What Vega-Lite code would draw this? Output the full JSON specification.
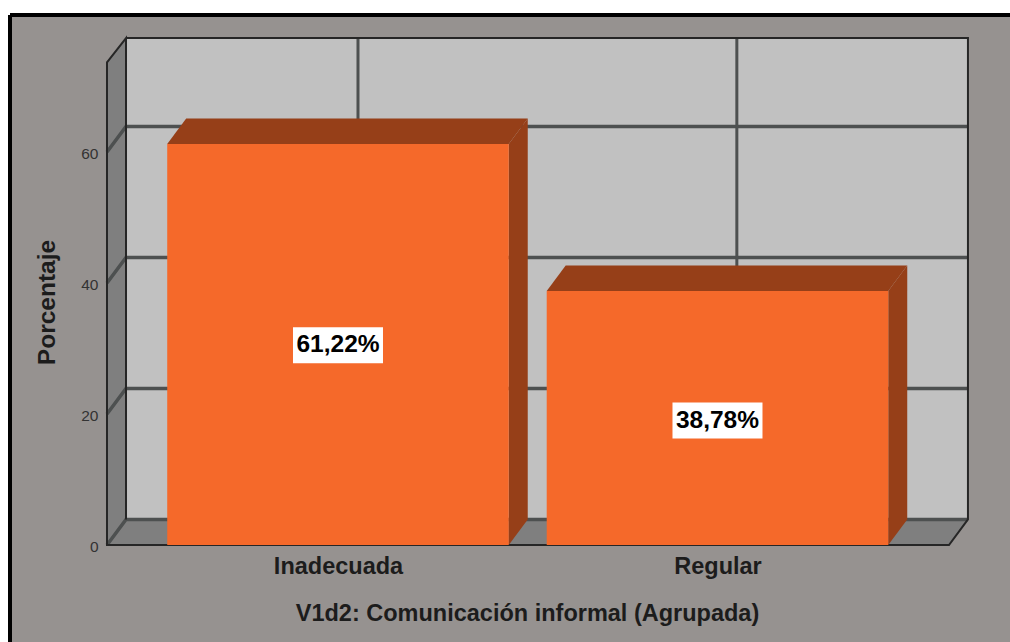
{"$schema":"https://vega.github.io/schema/vega-lite/v6.json","width":1000,"height":627,"autosize":"none","padding":{"left":10,"top":15,"right":0,"bottom":0},"background":"#ffffff","view":{"fill":"#969290","stroke":null},"config":{"font":"Liberation Sans"},
"encoding":{
"x":{"field":"x","type":"quantitative","scale":{"domain":[-0.8643,1.7708],"nice":false,"zero":false},"axis":{"orient":"bottom","offset":-97,"values":[0,1],"labelExpr":"datum.value === 0 ? 'Inadecuada' : 'Regular'","domain":false,"ticks":false,"grid":false,"labelFontSize":23.5,"labelFontWeight":"bold","labelColor":"#1c1c1c","labelPadding":9,"labelBound":false,"labelFlush":false,"labelOverlap":false,"title":"V1d2: Comunicación informal (Agrupada)","titleFontSize":23.5,"titleFontWeight":"bold","titleColor":"#1c1c1c","titleX":517,"titleY":68,"titleAlign":"center","titleBaseline":"middle","titleAnchor":null}},
"y":{"field":"y","type":"quantitative","scale":{"domain":[-14.809,80.916],"nice":false,"zero":false},"axis":{"orient":"left","offset":-97,"values":[0,20,40,60],"domain":false,"ticks":false,"grid":false,"labelFontSize":15.5,"labelColor":"#333333","labelPadding":9,"labelOffset":1.5,"labelBound":false,"labelFlush":false,"labelOverlap":false,"title":"Porcentaje","titleFontSize":24.5,"titleFontWeight":"bold","titleColor":"#1c1c1c","titleX":-60,"titleY":287,"titleAngle":-90,"titleAlign":"center","titleBaseline":"middle","titleAnchor":null}}
},
"layer":[
{"data":{"values":[{"x":-0.5586,"x2":1.66,"y":3.9,"y2":77.4}]},"mark":{"type":"rect","fill":"#c1c1c1"},"encoding":{"x2":{"field":"x2"},"y2":{"field":"y2"}}},
{"data":{"values":[{"x":-0.6087,"y":0,"y2":73.7},{"x":-0.5586,"y":3.9,"y2":77.4}]},"mark":{"type":"area","orient":"vertical","fill":"#7f7f7f"},"encoding":{"y2":{"field":"y2"}}},
{"data":{"values":[{"y":0,"x":-0.6087,"x2":1.61},{"y":3.9,"x":-0.5586,"x2":1.66}]},"mark":{"type":"area","orient":"horizontal","fill":"#7f7f7f"},"encoding":{"x2":{"field":"x2"}}},
{"data":{"values":[{"x":-0.6087,"y":0,"v":0},{"x":-0.5586,"y":3.9,"v":0},{"x":1.66,"y":3.9,"v":0},{"x":-0.6087,"y":20,"v":20},{"x":-0.5586,"y":23.9,"v":20},{"x":1.66,"y":23.9,"v":20},{"x":-0.6087,"y":40,"v":40},{"x":-0.5586,"y":43.9,"v":40},{"x":1.66,"y":43.9,"v":40},{"x":-0.6087,"y":60,"v":60},{"x":-0.5586,"y":63.9,"v":60},{"x":1.66,"y":63.9,"v":60}]},"mark":{"type":"line","color":"#4d5050","strokeWidth":3.5},"encoding":{"detail":{"field":"v"}}},
{"data":{"values":[{"x":0.0527,"y":3.9,"y2":77.4},{"x":1.051,"y":3.9,"y2":77.4}]},"mark":{"type":"rule","color":"#4d5050","strokeWidth":3},"encoding":{"y2":{"field":"y2"}}},
{"data":{"values":[{"tramo":"a","orden":1,"x":-0.5586,"y":3.9},{"tramo":"a","orden":2,"x":-0.5586,"y":77.4},{"tramo":"a","orden":3,"x":-0.6087,"y":73.7},{"tramo":"a","orden":4,"x":-0.6087,"y":0},{"tramo":"a","orden":5,"x":1.61,"y":0},{"tramo":"a","orden":6,"x":1.66,"y":3.9},{"tramo":"a","orden":7,"x":1.66,"y":77.4},{"tramo":"a","orden":8,"x":-0.5586,"y":77.4}]},"mark":{"type":"line","color":"#262626","strokeWidth":2},"encoding":{"detail":{"field":"tramo"},"order":{"field":"orden"}}},
{"data":{"values":[{"categoria":"Inadecuada","x":0.45,"y":0,"y2":61.22},{"categoria":"Inadecuada","x":0.5,"y":3.9,"y2":65.12},{"categoria":"Regular","x":1.45,"y":0,"y2":38.78},{"categoria":"Regular","x":1.5,"y":3.9,"y2":42.68}]},"mark":{"type":"area","orient":"vertical","fill":"#963f18"},"encoding":{"y2":{"field":"y2"},"detail":{"field":"categoria"}}},
{"data":{"values":[{"categoria":"Inadecuada","y":61.22,"x":-0.45,"x2":0.45},{"categoria":"Inadecuada","y":65.12,"x":-0.4,"x2":0.5},{"categoria":"Regular","y":38.78,"x":0.55,"x2":1.45},{"categoria":"Regular","y":42.68,"x":0.6,"x2":1.5}]},"mark":{"type":"area","orient":"horizontal","fill":"#963f18"},"encoding":{"x2":{"field":"x2"},"detail":{"field":"categoria"}}},
{"data":{"values":[{"categoria":"Inadecuada","x":-0.45,"x2":0.45,"y":0,"y2":61.22},{"categoria":"Regular","x":0.55,"x2":1.45,"y":0,"y2":38.78}]},"mark":{"type":"rect","fill":"#f5692a"},"encoding":{"x2":{"field":"x2"},"y2":{"field":"y2"}}},
{"data":{"values":[{"x":0,"y":30.5},{"x":1,"y":19}]},"mark":{"type":"rect","fill":"#ffffff","width":90,"height":36}},
{"data":{"values":[{"x":0,"y":30.5,"etiqueta":"61,22%"},{"x":1,"y":19,"etiqueta":"38,78%"}]},"mark":{"type":"text","fontSize":24.5,"fontWeight":"bold","color":"#000000","align":"center","baseline":"middle"},"encoding":{"text":{"field":"etiqueta"}}},
{"data":{"values":[{"x":-0.8643}]},"mark":{"type":"rule","color":"#000000","strokeWidth":4},"encoding":{"y":{"value":0},"y2":{"value":627}}},
{"data":{"values":[{"y":80.916}]},"mark":{"type":"rule","color":"#000000","strokeWidth":4},"encoding":{"x":{"value":0},"x2":{"value":1000}}}
]}
